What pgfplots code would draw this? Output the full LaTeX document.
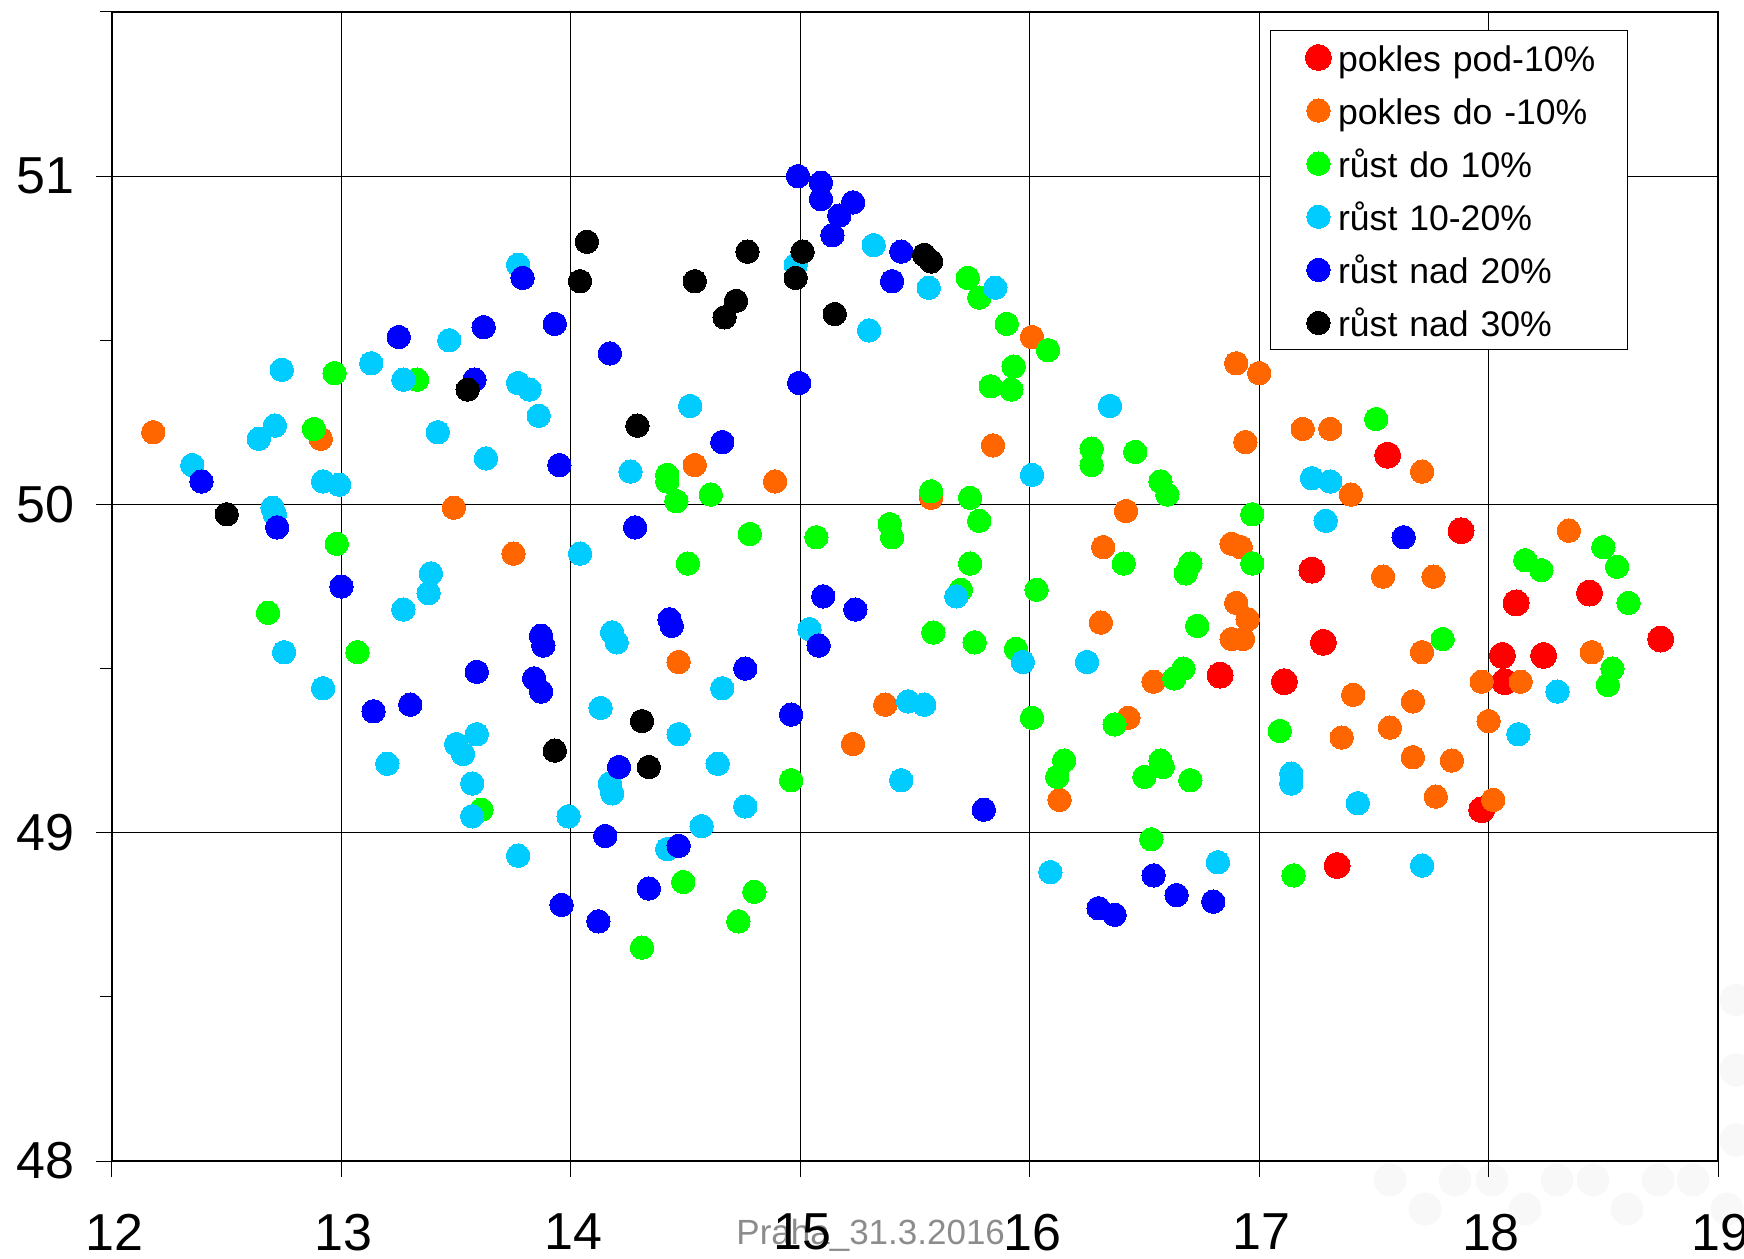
\documentclass[border=0pt]{standalone}
\usepackage{fontspec}
\setmainfont{Liberation Sans}
\usepackage{pgfplots}
\pgfplotsset{compat=1.18}
\definecolor{cRed}{HTML}{FF0000}
\definecolor{cOrange}{HTML}{FF6600}
\definecolor{cGreen}{HTML}{00FF00}
\definecolor{cCyan}{HTML}{00CCFF}
\definecolor{cBlue}{HTML}{0000FF}
\definecolor{wm}{HTML}{F8F8F8}
\begin{document}
\begin{tikzpicture}
% 1 px of the reference = 0.5pt, origin at the axis corner
\path[use as bounding box] (-56pt,-48.5pt) rectangle (816pt,580.5pt);
% faint watermark
\foreach \x in {1390,1455,1492,1557,1593,1658,1693} {
  \fill[wm] ({(\x-112)*0.5pt},-9.5pt) circle (8.2pt);
}
\foreach \x in {1425,1525,1627,1727} {
  \fill[wm] ({(\x-112)*0.5pt},-24pt) circle (8.2pt);
}
\foreach \y in {1000,1070,1140} {
  \fill[wm] (812pt,{(1161-\y)*0.5pt}) circle (8.2pt);
}
\node[anchor=base west,inner sep=0pt,text=black!45,font=\fontsize{17.5}{17.5}\selectfont]
  at (312pt,-41.5pt) {Praha\_31.3.2016};
\begin{axis}[
  at={(0pt,0pt)},
  anchor=south west,
  scale only axis,
  width=803pt,
  height=574.5pt,
  xmin=12, xmax=19,
  ymin=48, ymax=51.5,
  xtick={12,13,14,15,16,17,18,19},
  ytick={48,49,50,51},
  minor ytick={48.5,49.5,50.5,51.5},
  tick pos=lower,
  tick align=outside,
  major tick length=8pt,
  minor tick length=6pt,
  grid=major,
  major grid style={black,line width=0.5pt},
  axis line style={black,line width=0.6pt},
  every tick/.style={black,line width=0.5pt},
  /pgf/number format/assume math mode=true,
  tick label style={font=\fontsize{26}{26}\selectfont},
  xticklabel style={yshift=-15pt,xshift=1.2pt},
  yticklabel style={xshift=-7.2pt},
  legend cell align=left,
  legend image code/.code={
    \draw[#1] plot coordinates {(0pt,0pt)};
    \path (-13.85pt,0pt) (6.5pt,0pt);
  },
  legend style={
    at={(0.7212,0.9842)},
    anchor=north west,
    draw=black,
    line width=0.5pt,
    font=\fontsize{17.8}{17.8}\selectfont,
    inner xsep=10pt,
    inner ysep=5.15pt,
    row sep=10pt,
    nodes={inner sep=0pt,text height=15.25pt,text depth=1.3pt,text width=134.9pt},
    /tikz/every odd column/.append style={column sep=3.3pt},
  },
]
\addplot[only marks,color=cRed,line width=0pt,mark=*,mark size=6.5pt,mark options={fill=cRed}] coordinates {
(17.56,50.15) (17.88,49.92) (17.23,49.80) (18.44,49.73) (18.12,49.70) (17.28,49.58) (18.75,49.59)
(18.06,49.54) (18.24,49.54) (16.83,49.48) (17.11,49.46) (18.07,49.46) (17.97,49.07) (17.34,48.90)
};
\addlegendentry{pokles pod-10\%}
\addplot[only marks,color=cOrange,line width=0pt,mark=*,mark size=5.85pt,mark options={fill=cOrange}] coordinates {
(12.18,50.22) (12.91,50.20) (16.01,50.51) (16.90,50.43) (17.00,50.40) (15.84,50.18) (17.19,50.23)
(17.31,50.23) (16.94,50.19) (14.54,50.12) (14.89,50.07) (17.71,50.10) (17.40,50.03) (15.57,50.02)
(13.49,49.99) (16.42,49.98) (13.75,49.85) (16.32,49.87) (16.88,49.88) (16.92,49.87) (18.35,49.92)
(17.54,49.78) (17.76,49.78) (16.90,49.70) (16.95,49.65) (16.31,49.64) (16.88,49.59) (16.93,49.59)
(17.71,49.55) (18.45,49.55) (14.47,49.52) (16.54,49.46) (17.97,49.46) (18.14,49.46) (17.41,49.42)
(17.67,49.40) (15.37,49.39) (16.43,49.35) (18.00,49.34) (17.57,49.32) (17.36,49.29) (15.23,49.27)
(17.67,49.23) (17.84,49.22) (17.77,49.11) (18.02,49.10) (16.13,49.10)
};
\addlegendentry{pokles do -10\%}
\addplot[only marks,color=cGreen,line width=0pt,mark=*,mark size=5.85pt,mark options={fill=cGreen}] coordinates {
(15.73,50.69) (15.78,50.63) (15.90,50.55) (16.08,50.47) (15.93,50.42) (15.83,50.36) (15.92,50.35)
(12.97,50.40) (13.33,50.38) (12.88,50.23) (17.51,50.26) (16.27,50.17) (16.46,50.16) (16.27,50.12)
(14.42,50.09) (14.42,50.07) (16.57,50.07) (14.61,50.03) (16.60,50.03) (14.46,50.01) (15.57,50.04)
(15.74,50.02) (15.78,49.95) (16.97,49.97) (15.39,49.94) (15.40,49.90) (14.78,49.91) (15.07,49.90)
(12.98,49.88) (14.51,49.82) (15.74,49.82) (16.41,49.82) (16.70,49.82) (16.68,49.79) (16.97,49.82)
(18.16,49.83) (18.23,49.80) (18.50,49.87) (18.56,49.81) (18.61,49.70) (15.70,49.74) (16.03,49.74)
(12.68,49.67) (15.58,49.61) (15.76,49.58) (15.94,49.56) (13.07,49.55) (16.73,49.63) (17.80,49.59)
(18.54,49.50) (18.52,49.45) (16.67,49.50) (16.63,49.47) (16.01,49.35) (16.37,49.33) (17.09,49.31)
(16.15,49.22) (16.12,49.17) (16.50,49.17) (16.57,49.22) (16.58,49.20) (16.70,49.16) (14.96,49.16)
(13.61,49.07) (16.53,48.98) (14.49,48.85) (14.80,48.82) (14.73,48.73) (14.31,48.65) (17.15,48.87)
};
\addlegendentry{růst do 10\%}
\addplot[only marks,color=cCyan,line width=0pt,mark=*,mark size=5.85pt,mark options={fill=cCyan}] coordinates {
(13.77,50.73) (14.98,50.73) (15.32,50.79) (15.56,50.66) (15.85,50.66) (15.30,50.53) (13.47,50.50)
(13.13,50.43) (12.74,50.41) (13.27,50.38) (13.77,50.37) (13.82,50.35) (13.86,50.27) (14.52,50.30)
(16.35,50.30) (12.71,50.24) (12.64,50.20) (13.42,50.22) (12.35,50.12) (13.63,50.14) (12.92,50.07)
(12.99,50.06) (14.26,50.10) (16.01,50.09) (17.23,50.08) (17.31,50.07) (12.70,49.99) (12.71,49.97)
(17.29,49.95) (14.04,49.85) (13.39,49.79) (13.38,49.73) (13.27,49.68) (15.68,49.72) (14.18,49.61)
(14.20,49.58) (15.04,49.62) (12.75,49.55) (15.97,49.52) (16.25,49.52) (12.92,49.44) (14.66,49.44)
(15.47,49.40) (15.54,49.39) (14.13,49.38) (18.30,49.43) (13.59,49.30) (14.47,49.30) (13.50,49.27)
(13.53,49.24) (18.13,49.30) (13.20,49.21) (14.64,49.21) (17.14,49.18) (17.14,49.15) (13.57,49.15)
(15.44,49.16) (14.17,49.15) (14.18,49.12) (14.76,49.08) (17.43,49.09) (13.57,49.05) (13.99,49.05)
(14.57,49.02) (14.42,48.95) (13.77,48.93) (16.09,48.88) (16.82,48.91) (17.71,48.90)
};
\addlegendentry{růst 10-20\%}
\addplot[only marks,color=cBlue,line width=0pt,mark=*,mark size=5.85pt,mark options={fill=cBlue}] coordinates {
(14.99,51.00) (15.09,50.98) (15.09,50.93) (15.23,50.92) (15.17,50.88) (15.14,50.82) (15.44,50.77)
(15.40,50.68) (13.79,50.69) (13.62,50.54) (13.93,50.55) (13.25,50.51) (14.17,50.46) (13.58,50.38)
(14.995,50.37) (14.66,50.19) (13.95,50.12) (12.39,50.07) (14.28,49.93) (12.72,49.93) (13.00,49.75)
(15.10,49.72) (15.24,49.68) (14.43,49.65) (14.44,49.63) (13.87,49.60) (13.88,49.57) (15.08,49.57)
(14.76,49.50) (13.59,49.49) (13.84,49.47) (13.87,49.43) (13.14,49.37) (13.30,49.39) (14.96,49.36)
(14.21,49.20) (14.15,48.99) (15.80,49.07) (14.47,48.96) (14.34,48.83) (13.96,48.78) (14.12,48.73)
(16.54,48.87) (16.64,48.81) (16.80,48.79) (16.30,48.77) (16.37,48.75) (17.63,49.90)
};
\addlegendentry{růst nad 20\%}
\addplot[only marks,color=black,line width=0pt,mark=*,mark size=5.85pt,mark options={fill=black}] coordinates {
(12.50,49.97) (13.55,50.35) (14.07,50.80) (14.04,50.68) (14.54,50.68) (14.77,50.77) (14.72,50.62)
(14.67,50.57) (15.01,50.77) (14.98,50.69) (15.15,50.58) (15.54,50.76) (15.57,50.74) (14.29,50.24)
(14.31,49.34) (13.93,49.25) (14.34,49.20)
};
\addlegendentry{růst nad 30\%}
\end{axis}
\end{tikzpicture}
\end{document}
